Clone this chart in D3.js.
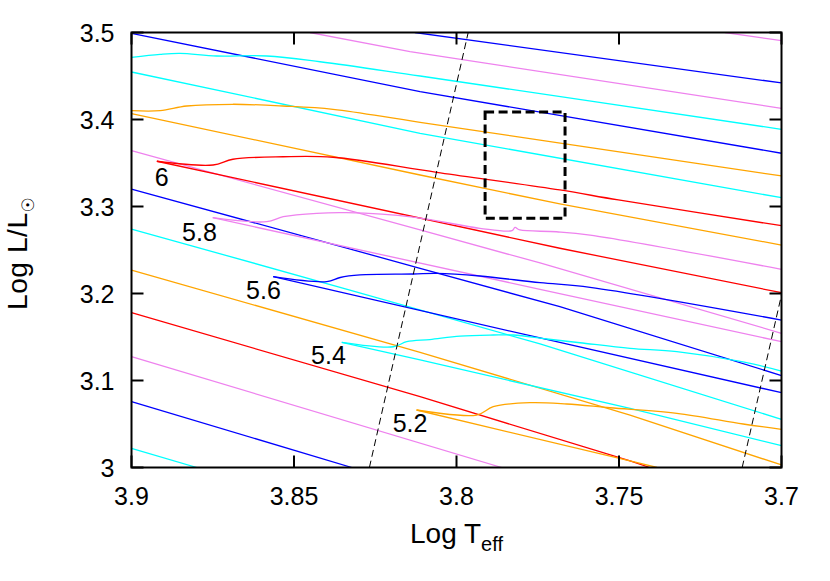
<!DOCTYPE html>
<html>
<head>
  <meta charset="utf-8">
  <script src="https://cdn.jsdelivr.net/npm/d3@7/dist/d3.min.js"></script>
  <style>
    body { margin: 0; background: #fff; }
    text { font-family: "Liberation Sans", Arial, Helvetica, sans-serif; fill: #000; }
  </style>
</head>
<body>
<script>
  // axis ticks
  const xTicks = [3.9, 3.85, 3.8, 3.75, 3.7];
  const xTickLabels = ["3.9", "3.85", "3.8", "3.75", "3.7"];
  const yTicks = [3, 3.1, 3.2, 3.3, 3.4, 3.5];
  const yTickLabels = ["3", "3.1", "3.2", "3.3", "3.4", "3.5"];

  // blue loops (log Teff, log L)
  const loop64 = [[3.9, 3.4715], [3.8912, 3.4749], [3.8851, 3.476], [3.8738, 3.473], [3.8584, 3.473], [3.842, 3.4664], [3.8112, 3.45], [3.7, 3.3887]];
  const loop62 = [[3.9, 3.4101], [3.8912, 3.4101], [3.883, 3.4155], [3.8688, 3.4175], [3.8534, 3.4155], [3.838, 3.4117], [3.8112, 3.3968], [3.7, 3.3351]];
  const loop60 = [[3.8922, 3.352], [3.8749, 3.3477], [3.8688, 3.3543], [3.8534, 3.3572], [3.838, 3.3566], [3.8061, 3.3393], [3.7682, 3.319], [3.7502, 3.3075], [3.7, 3.2779]];
  const loop58 = [[3.875, 3.2871], [3.8584, 3.2825], [3.8533, 3.2883], [3.843, 3.2922], [3.8338, 3.2929], [3.8133, 3.2879], [3.7928, 3.2749], [3.7829, 3.2722], [3.782, 3.2759], [3.7805, 3.273], [3.7692, 3.271], [3.7589, 3.2672], [3.7, 3.2278]];
  const loop56 = [[3.8564, 3.2193], [3.8399, 3.2136], [3.8358, 3.2184], [3.8297, 3.2213], [3.8133, 3.2224], [3.8061, 3.2232], [3.7928, 3.2201], [3.7743, 3.2124], [3.7589, 3.2071], [3.7, 3.1695]];
  const loop54 = [[3.8353, 3.1439], [3.8194, 3.1388], [3.8153, 3.1446], [3.8082, 3.1471], [3.7989, 3.1511], [3.7887, 3.1523], [3.7825, 3.1523], [3.7722, 3.1477], [3.762, 3.1434], [3.7466, 3.137], [3.7322, 3.1331], [3.7118, 3.1213], [3.7, 3.1109]];
  const loop52 = [[3.8123, 3.0661], [3.7938, 3.0603], [3.7887, 3.0699], [3.7774, 3.0745], [3.7661, 3.073], [3.7528, 3.0687], [3.7322, 3.0623], [3.7118, 3.05], [3.7, 3.0439]];

  // straight segments
  const blueA = [[3.9, 3.4991], [3.8112, 3.432], [3.7, 3.3612]];
  const blueTop = [[3.8128, 3.5], [3.7, 3.442]];
  const blueE = [[3.9, 3.3201], [3.8112, 3.229], [3.7682, 3.1848], [3.7, 3.1057]];
  const blueJ = [[3.9, 3.0756], [3.8322, 3.0]];
  const blue56 = [[3.8564, 3.2193], [3.7743, 3.1489], [3.7, 3.086]];
  const cyanB = [[3.9, 3.4546], [3.8112, 3.3841], [3.7, 3.3101]];
  const cyanF = [[3.9, 3.2741], [3.8328, 3.204], [3.7743, 3.142], [3.7, 3.0554]];
  const cyanK = [[3.9, 3.0221], [3.8799, 3.0]];
  const cyan54 = [[3.8353, 3.1439], [3.8112, 3.1236], [3.7466, 3.068], [3.7, 3.0251]];
  const orangeC = [[3.9, 3.4067], [3.8112, 3.3362], [3.7682, 3.3029], [3.7, 3.2557]];
  const orangeG = [[3.9, 3.227], [3.8112, 3.1322], [3.7466, 3.0603], [3.7, 3.0029]];
  const orange52 = [[3.8123, 3.0661], [3.7466, 3.0075], [3.7383, 3.0]];
  const red60 = [[3.8922, 3.352], [3.7682, 3.252], [3.7, 3.2009]];
  const redH = [[3.9, 3.1779], [3.8112, 3.0814], [3.7466, 3.0075], [3.7405, 3.0]];
  const violetTop = [[3.8451, 3.5], [3.8143, 3.4779], [3.7, 3.4129]];
  const violetTR = [[3.7174, 3.5], [3.7, 3.4906]];
  const violetD = [[3.9, 3.3641], [3.8112, 3.273], [3.7743, 3.2351], [3.7, 3.1543]];
  const violetI = [[3.9, 3.1274], [3.7861, 3.0]];
  const violet58 = [[3.875, 3.2871], [3.7743, 3.2048], [3.7, 3.1446]];

  // instability strip edges and the box
  const blueEdge = [[3.8268, 3.0], [3.7964, 3.5]];
  const redEdge = [[3.7121, 3.0], [3.6816, 3.5]];
  const boxTeff = [3.7912, 3.7666];
  const boxLum = [3.4086, 3.2864];

  // mass labels
  const massLabels = ["6", "5.8", "5.6", "5.4", "5.2"];
  const labelTeff = [3.8907, 3.8791, 3.8594, 3.8394, 3.8143];
  const labelLum = [3.3343, 3.271, 3.204, 3.1293, 3.0508];

  // loops are drawn smooth, the straight parts as plain polylines
  const straights = [
    { c: "violet", d: violetTR }, { c: "blue", d: blueTop }, { c: "violet", d: violetTop },
    { c: "blue", d: blueA }, { c: "cyan", d: cyanB }, { c: "orange", d: orangeC },
    { c: "violet", d: violetD }, { c: "blue", d: blueE }, { c: "cyan", d: cyanF },
    { c: "orange", d: orangeG }, { c: "red", d: redH }, { c: "violet", d: violetI },
    { c: "blue", d: blueJ }, { c: "cyan", d: cyanK },
    { c: "red", d: red60 }, { c: "violet", d: violet58 }, { c: "blue", d: blue56 },
    { c: "cyan", d: cyan54 }, { c: "orange", d: orange52 }
  ];
  const loops = [
    { c: "cyan", d: loop64 }, { c: "orange", d: loop62 }, { c: "red", d: loop60 },
    { c: "violet", d: loop58 }, { c: "blue", d: loop56 }, { c: "cyan", d: loop54 },
    { c: "orange", d: loop52 }
  ];

  const width = 830, height = 581;
  const mLeft = 131.5, mRight = 781.5, mTop = 32.5, mBottom = 467.5;

  const x = d3.scaleLinear().domain([3.9, 3.7]).range([mLeft, mRight]);
  const y = d3.scaleLinear().domain([3, 3.5]).range([mBottom, mTop]);

  const svg = d3.select("body").append("svg")
    .attr("width", width)
    .attr("height", height);

  svg.append("clipPath").attr("id", "plot")
    .append("rect")
    .attr("x", mLeft).attr("y", mTop)
    .attr("width", mRight - mLeft).attr("height", mBottom - mTop);

  const plot = svg.append("g").attr("clip-path", "url(#plot)");

  const line = d3.line().x(d => x(d[0])).y(d => y(d[1]));
  const smooth = d3.line().x(d => x(d[0])).y(d => y(d[1])).curve(d3.curveCatmullRom.alpha(0.5));

  plot.selectAll("path.straight")
    .data(straights)
    .enter()
    .append("path")
    .attr("class", "straight")
    .attr("d", d => line(d.d))
    .style("fill", "none")
    .style("stroke", d => d.c)
    .style("stroke-width", 1.3);

  plot.selectAll("path.loop")
    .data(loops)
    .enter()
    .append("path")
    .attr("class", "loop")
    .attr("d", d => smooth(d.d))
    .style("fill", "none")
    .style("stroke", d => d.c)
    .style("stroke-width", 1.3);

  // strip edges
  plot.selectAll("path.edge")
    .data([blueEdge, redEdge])
    .enter()
    .append("path")
    .attr("class", "edge")
    .attr("d", line)
    .style("fill", "none")
    .style("stroke", "#000")
    .style("stroke-width", 1)
    .style("stroke-dasharray", "7,4");

  // dashed box
  plot.append("rect")
    .attr("x", x(boxTeff[0]))
    .attr("y", y(boxLum[0]))
    .attr("width", x(boxTeff[1]) - x(boxTeff[0]))
    .attr("height", y(boxLum[1]) - y(boxLum[0]))
    .style("fill", "none")
    .style("stroke", "#000")
    .style("stroke-width", 3)
    .style("stroke-dasharray", "9,4.5");

  // mass labels
  svg.selectAll("text.mass")
    .data(massLabels)
    .enter()
    .append("text")
    .attr("class", "mass")
    .attr("x", (d, i) => x(labelTeff[i]))
    .attr("y", (d, i) => y(labelLum[i]) + 9)
    .attr("text-anchor", "middle")
    .style("font-size", "25px")
    .text(d => d);

  // frame
  svg.append("rect")
    .attr("x", mLeft).attr("y", mTop)
    .attr("width", mRight - mLeft).attr("height", mBottom - mTop)
    .style("fill", "none")
    .style("stroke", "#000")
    .style("stroke-width", 2);

  // ticks, inward on all four sides
  const tk = 12;
  const axes = svg.append("g").style("stroke", "#000").style("stroke-width", 2);
  xTicks.forEach(t => {
    axes.append("line").attr("x1", x(t)).attr("x2", x(t)).attr("y1", mBottom).attr("y2", mBottom - tk);
    axes.append("line").attr("x1", x(t)).attr("x2", x(t)).attr("y1", mTop).attr("y2", mTop + tk);
  });
  yTicks.forEach(t => {
    axes.append("line").attr("x1", mLeft).attr("x2", mLeft + tk).attr("y1", y(t)).attr("y2", y(t));
    axes.append("line").attr("x1", mRight).attr("x2", mRight - tk).attr("y1", y(t)).attr("y2", y(t));
  });

  svg.selectAll("text.xtick")
    .data(xTicks)
    .enter()
    .append("text")
    .attr("class", "xtick")
    .attr("x", d => x(d))
    .attr("y", mBottom + 37)
    .attr("text-anchor", "middle")
    .style("font-size", "25px")
    .text((d, i) => xTickLabels[i]);

  svg.selectAll("text.ytick")
    .data(yTicks)
    .enter()
    .append("text")
    .attr("class", "ytick")
    .attr("x", mLeft - 17)
    .attr("y", d => y(d) + 9)
    .attr("text-anchor", "end")
    .style("font-size", "25px")
    .text((d, i) => yTickLabels[i]);

  // axis titles
  const xt = svg.append("text")
    .attr("x", 410)
    .attr("y", 542.5)
    .style("font-size", "28px");
  xt.append("tspan").text("Log T");
  xt.append("tspan").attr("dy", 8).style("font-size", "20px").text("eff");

  const yt = svg.append("text")
    .attr("transform", "translate(27,310) rotate(-90)")
    .style("font-size", "28px")
    .style("letter-spacing", "0.6px");
  yt.append("tspan").text("Log L/L");
  yt.append("tspan").attr("dy", 7)
    .style("font-size", "17px")
    .style("letter-spacing", "0px")
    .style("font-family", "'DejaVu Sans', sans-serif")
    .text("\u2609");
</script>
</body>
</html>
